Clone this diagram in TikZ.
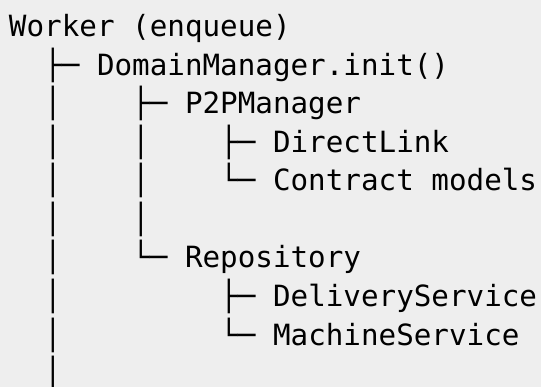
\documentclass[tikz,border=0pt]{standalone}
\usepackage{fontspec}
\newfontfamily\treemono{DejaVu Sans Mono}
\definecolor{bgc}{HTML}{EEEEEE}
\tikzset{treeline/.style={anchor=base west,inner sep=0pt,outer sep=0pt,font=\treemono\fontsize{29.24pt}{38.5pt}\selectfont,text=black}}
\begin{document}
\begin{tikzpicture}[x=1pt,y=1pt]
\fill[bgc] (0,0) rectangle (541,-387);
\useasboundingbox (0,0) rectangle (541,-387);
\node[treeline] (l1) at (9,-37) {Worker (enqueue)};
\node[treeline] (l2) at (9,-75.5) {\ \ ├─ DomainManager.init()};
\node[treeline] (l3) at (9,-114) {\ \ │\ \ \ \ ├─ P2PManager};
\node[treeline] (l4) at (9,-152.5) {\ \ │\ \ \ \ │\ \ \ \ ├─ DirectLink};
\node[treeline] (l5) at (9,-191) {\ \ │\ \ \ \ │\ \ \ \ └─ Contract models};
\node[treeline] (l6) at (9,-229.5) {\ \ │\ \ \ \ │};
\node[treeline] (l7) at (9,-268) {\ \ │\ \ \ \ └─ Repository};
\node[treeline] (l8) at (9,-306.5) {\ \ │\ \ \ \ \ \ \ \ \ ├─ DeliveryService};
\node[treeline] (l9) at (9,-345) {\ \ │\ \ \ \ \ \ \ \ \ └─ MachineService};
\node[treeline] (l10) at (9,-383.5) {\ \ │};
\end{tikzpicture}
\end{document}
